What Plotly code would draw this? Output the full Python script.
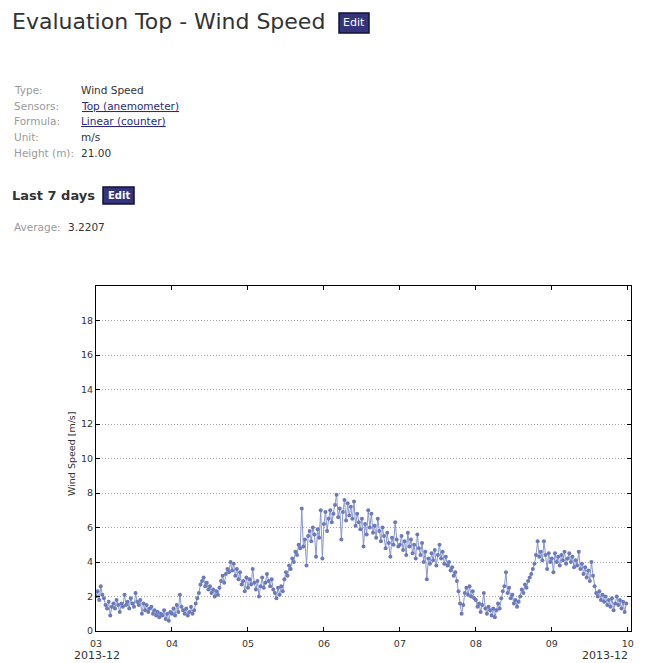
import pandas as pd
import plotly.graph_objects as go

# Half-hourly wind speed [m/s], one list per day (2013-12-03 .. 2013-12-09)
dec03 = [2.0, 2.3, 1.8, 2.6, 2.1, 1.9, 1.5, 1.3, 1.7, 0.9, 1.4, 1.6,
         1.3, 1.8, 1.5, 1.1, 1.6, 1.4, 2.1, 1.5, 1.7, 1.3, 1.9, 1.6,
         1.4, 2.2, 1.7, 1.5, 1.8, 1.0, 1.6, 1.2, 1.5, 1.1, 1.3, 1.4,
         1.0, 1.2, 0.9, 1.1, 0.8, 1.0, 0.9, 1.2, 0.7, 1.0, 0.6, 1.1]
dec04 = [1.0, 1.3, 0.9, 1.5, 1.1, 2.1, 1.4, 1.2, 1.0, 1.3, 0.9, 1.1,
         1.4, 1.0, 1.2, 1.6, 1.9, 2.2, 2.7, 2.9, 3.1, 2.6, 2.8, 2.4,
         2.6, 2.2, 2.4, 2.0, 2.3, 2.1, 2.5, 2.9, 3.2, 2.8, 3.3, 3.6,
         3.4, 4.0, 3.5, 3.9, 3.2, 3.6, 3.0, 3.4, 2.7, 2.9, 2.3, 3.1]
dec05 = [2.5, 3.0, 2.7, 3.6, 2.8, 2.4, 2.9, 2.0, 2.6, 3.1, 2.5, 2.8,
         3.3, 2.9, 2.6, 3.0, 2.4, 2.2, 1.9, 2.5, 2.1, 2.6, 2.3, 3.0,
         3.4, 3.2, 3.8, 3.6, 4.2, 4.0, 4.6, 4.4, 5.0, 4.8, 7.1, 4.9,
         5.3, 3.8, 5.5, 5.8, 5.2, 6.0, 5.6, 4.3, 5.9, 5.4, 7.0, 4.2]
dec06 = [6.2, 6.9, 5.8, 6.5, 7.0, 6.3, 6.8, 7.3, 7.9, 6.6, 7.1, 5.3,
         6.9, 7.6, 6.4, 7.4, 6.7, 7.2, 6.5, 7.5, 6.1, 6.8, 6.3, 5.9,
         6.5, 4.9, 6.2, 5.6, 7.0, 6.0, 6.8, 5.7, 6.1, 5.4, 6.5, 5.8,
         5.2, 6.0, 5.5, 4.8, 5.7, 5.1, 4.3, 5.4, 5.0, 6.3, 5.3, 4.9]
dec07 = [5.0, 5.5, 4.7, 5.2, 4.4, 5.7, 4.9, 5.3, 4.5, 5.0, 4.2, 5.6,
         4.8, 4.4, 5.1, 4.0, 4.6, 3.0, 4.2, 3.9, 4.5, 4.1, 4.7, 3.8,
         4.4, 5.0, 4.2, 4.6, 3.9, 4.3, 3.8, 4.0, 3.5, 3.7, 3.2, 3.4,
         2.9, 2.3, 1.6, 1.0, 1.5, 2.2, 2.5, 2.1, 2.6, 2.0, 2.3, 1.9]
dec08 = [1.8, 1.4, 1.6, 1.1, 1.5, 2.2, 1.3, 1.0, 1.4, 1.2, 0.9, 1.3,
         0.8, 1.2, 1.6, 1.3, 1.9, 2.3, 2.6, 3.4, 2.2, 2.5, 1.9, 2.1,
         1.6, 1.8, 1.4, 1.7, 2.0, 2.4, 2.2, 2.7, 2.5, 2.9, 3.1, 3.3,
         3.6, 3.9, 4.4, 5.2, 4.3, 4.6, 4.1, 5.2, 4.4, 3.6, 4.5, 4.0]
dec09 = [4.2, 3.4, 4.5, 4.0, 4.3, 3.8, 4.4, 4.1, 4.6, 3.9, 4.2, 4.5,
         4.0, 4.3, 3.7, 4.1, 3.8, 4.6, 3.6, 3.9, 3.3, 3.7, 3.1, 3.5,
         2.9, 4.0, 3.2, 2.6, 2.2, 2.0, 2.3, 1.8, 2.1, 1.7, 2.0, 1.5,
         1.8, 1.4, 1.9, 1.2, 1.6, 2.0, 1.5, 1.8, 1.3, 1.7, 1.1, 1.6]

speed = dec03 + dec04 + dec05 + dec06 + dec07 + dec08 + dec09
times = pd.date_range("2013-12-03 00:00", periods=len(speed), freq="30min")

y_ticks = [0, 2, 4, 6, 8, 10, 12, 14, 16, 18]

info_labels = ["Type:", "Sensors:", "Formula:", "Unit:", "Height (m):"]
info_values = ["Wind Speed", "<u>Top (anemometer)</u>", "<u>Linear (counter)</u>", "m/s", "21.00"]
info_colors = ["#333333", "#2b2b7a", "#2b2b7a", "#333333", "#333333"]
average_text = "3.2207"

W, H = 655, 663
FONT = "DejaVu Sans"


def px(x):
    return x / W


def py(y):
    return 1 - y / H


fig = go.Figure()
fig.add_trace(go.Scatter(
    x=times, y=speed, mode="lines+markers",
    line=dict(color="#8a96cf", width=1),
    marker=dict(color="#6a7aba", size=4),
    hoverinfo="x+y", showlegend=False,
))

annotations = []


def text(x, y, s, size, color="#333333", bold=False, anchor="left", angle=0):
    if bold:
        s = "<b>" + s + "</b>"
    annotations.append(dict(
        x=px(x), y=py(y), xref="paper", yref="paper", text=s, showarrow=False,
        xanchor=anchor, yanchor="middle", textangle=angle,
        font=dict(family=FONT, size=size, color=color),
    ))


# Page header
text(10, 22, "Evaluation Top - Wind Speed", 22, "#333333")
rows_y = [90, 106, 121, 137, 153]
for lab, val, col, yy in zip(info_labels, info_values, info_colors, rows_y):
    text(12, yy, lab, 10.5, "#9a9a9a")
    text(79, yy, val, 10.5, col)
text(10, 195, "Last 7 days", 13, "#333333", bold=True)
text(12, 227, "Average:", 10.5, "#9a9a9a")
text(66, 227, average_text, 10.5, "#333333")

# Edit buttons
shapes = []
for (x0, y0, x1, y1, sz, bold) in [(339, 13, 369, 33, 11, False), (103, 187, 134, 204, 10, True)]:
    shapes.append(dict(type="rect", xref="paper", yref="paper",
                       x0=px(x0), x1=px(x1), y0=py(y1), y1=py(y0),
                       fillcolor="#34347c", line=dict(color="#111133", width=1.5)))
    text((x0 + x1) / 2, (y0 + y1) / 2, "Edit", sz, "#ffffff", bold=bold, anchor="center")

# Axis annotations
text(71, 454, "Wind Speed [m/s]", 9.5, "#333333", anchor="center", angle=-90)
text(97, 655, "2013-12", 11, "#333333", anchor="center")
text(605, 655, "2013-12", 11, "#333333", anchor="center")

axis_common = dict(
    showline=True, linecolor="#000000", linewidth=1, mirror="ticks",
    ticks="inside", ticklen=4, tickcolor="#000000", automargin=False,
    tickfont=dict(family=FONT, size=9.5, color="#333333"),
)

fig.update_layout(
    width=W, height=H, margin=dict(l=0, r=0, t=0, b=0),
    paper_bgcolor="#ffffff", plot_bgcolor="#ffffff",
    font=dict(family=FONT),
    annotations=annotations, shapes=shapes,
    xaxis=dict(
        domain=[px(96), px(631)], type="date",
        range=["2013-12-03", "2013-12-10 01:00"],
        tick0="2013-12-03", dtick=86400000, tickformat="%d",
        ticklabelstandoff=4,
        showgrid=False, zeroline=False, **axis_common,
    ),
    yaxis=dict(
        domain=[py(631), py(286)], range=[0, 20],
        tickmode="array", tickvals=y_ticks,
        showgrid=True, gridcolor="#a8a8a8", gridwidth=1, griddash="1px,2px",
        zeroline=False, **axis_common,
    ),
)

fig.write_html("out.html")
